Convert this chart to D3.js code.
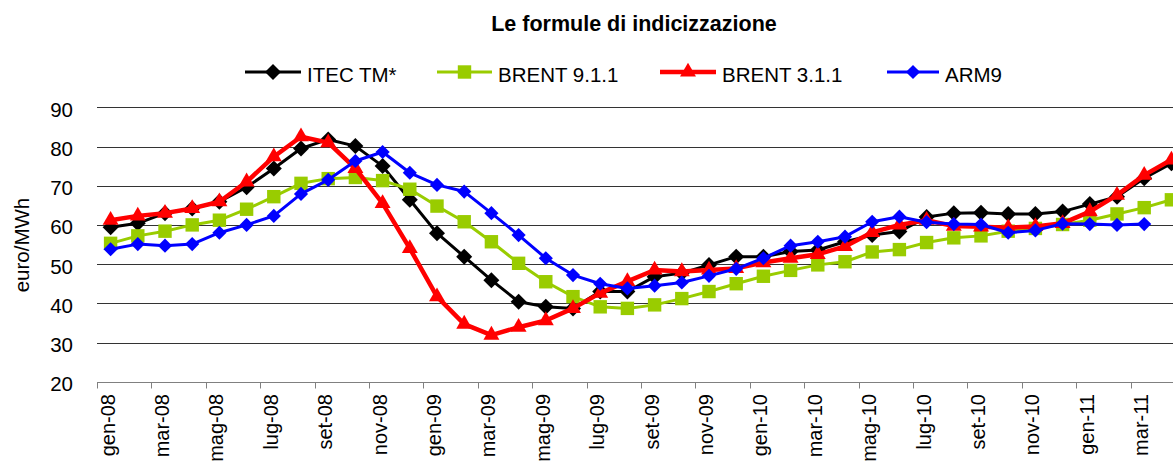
<!DOCTYPE html>
<html>
<head>
<meta charset="utf-8">
<script src="https://cdn.jsdelivr.net/npm/d3@7"></script>
<style>
    html, body { margin: 0; padding: 0; background: #fff; }
    #chart { width: 1173px; height: 468px; overflow: hidden; }
    text { font-family: "Liberation Sans", Arial, sans-serif; fill: #000; }
</style>
</head>
<body>
<div id="chart"></div>
<script>
// months from gen-08 to apr-11
const categories = [
    "gen-08", "feb-08", "mar-08", "apr-08", "mag-08", "giu-08", "lug-08", "ago-08", "set-08", "ott-08", "nov-08", "dic-08",
    "gen-09", "feb-09", "mar-09", "apr-09", "mag-09", "giu-09", "lug-09", "ago-09", "set-09", "ott-09", "nov-09", "dic-09",
    "gen-10", "feb-10", "mar-10", "apr-10", "mag-10", "giu-10", "lug-10", "ago-10", "set-10", "ott-10", "nov-10", "dic-10",
    "gen-11", "feb-11", "mar-11", "apr-11"
];

const itecTM = [59.4, 60.4, 63.0, 64.2, 65.9, 69.6, 74.4, 79.5, 81.8, 80.1, 75.0, 66.4,
    57.9, 51.9, 45.9, 40.4, 39.1, 38.7, 43.0, 43.0, 46.8, 47.7, 49.8, 51.9,
    51.9, 53.2, 53.6, 55.7, 57.4, 58.3, 62.0, 63.0, 63.1, 62.8, 62.8, 63.4,
    65.3, 67.2, 71.9, 75.7];

const brent911 = [55.3, 57.2, 58.4, 60.0, 61.2, 64.0, 67.2, 70.6, 71.8, 72.1, 71.3, 69.1,
    64.8, 60.8, 55.7, 50.2, 45.5, 41.7, 39.1, 38.7, 39.6, 41.2, 43.0, 45.0,
    46.9, 48.4, 49.8, 50.6, 53.1, 53.7, 55.5, 56.7, 57.2, 58.4, 59.1, 60.1,
    61.2, 62.8, 64.4, 66.4];

const brent311 = [61.2, 62.3, 63.0, 64.2, 65.9, 71.0, 77.4, 82.5, 81.0, 74.4, 65.5, 54.0,
    41.7, 34.7, 31.9, 33.9, 35.6, 38.7, 42.6, 45.6, 48.5, 48.1, 48.5, 48.9,
    50.4, 51.5, 52.5, 54.5, 58.1, 60.0, 61.2, 59.7, 59.5, 59.3, 59.6, 60.4,
    63.4, 67.6, 72.7, 76.6];

const arm9 = [53.8, 55.1, 54.7, 55.1, 58.0, 60.0, 62.3, 67.9, 71.5, 76.3, 78.6, 73.3,
    70.2, 68.5, 63.0, 57.4, 51.5, 47.2, 45.0, 43.8, 44.5, 45.3, 47.0, 48.8,
    51.5, 54.7, 55.7, 57.0, 60.8, 62.1, 60.7, 60.2, 60.1, 58.0, 58.6, 60.3,
    60.2, 60.0, 60.2, null];

const yTicks = [20, 30, 40, 50, 60, 70, 80, 90];

const seriesNames = ["ITEC TM*", "BRENT 9.1.1", "BRENT 3.1.1", "ARM9"];

let series = [
    { name: seriesNames[0], values: itecTM, color: "#000000", width: 3, marker: "diamond", size: 128 },
    { name: seriesNames[1], values: brent911, color: "#99cc00", width: 3, marker: "square", size: 180 },
    { name: seriesNames[2], values: brent311, color: "#ff0000", width: 4.5, marker: "triangle", size: 110 },
    { name: seriesNames[3], values: arm9, color: "#0000ff", width: 3, marker: "diamond", size: 100 }
];

let width = 1173, height = 468;
// plot area runs past the right edge, like the cropped original
let plot = { left: 97, right: 97 + 40 * 27.2, top: 107.3, bottom: 381.7 };

let svg = d3.select("#chart")
    .append("svg")
    .attr("width", width)
    .attr("height", height);

let x = d3.scaleBand()
    .domain(categories)
    .range([plot.left, plot.right]);

let y = d3.scaleLinear()
    .domain([20, 90])
    .range([plot.bottom, plot.top]);

function markerPath(type, size) {
    if (type === "square") return d3.symbol(d3.symbolSquare, size)();
    if (type === "triangle") return d3.symbol(d3.symbolTriangle, size)();
    return d3.symbol(d3.symbolSquare, size)(); // rotated later -> diamond
}

function markerTransform(type, cx, cy) {
    let t = "translate(" + cx + "," + cy + ")";
    if (type === "diamond") t += " rotate(45)";
    return t;
}

// title
svg.append("text")
    .attr("x", 634)
    .attr("y", 31)
    .attr("text-anchor", "middle")
    .style("font-size", "21.5px")
    .style("font-weight", "bold")
    .text("Le formule di indicizzazione");

// gridlines
svg.append("g")
    .selectAll("line")
    .data(yTicks.filter(function (d) { return d > 20; }))
    .enter()
    .append("line")
    .attr("x1", plot.left)
    .attr("x2", plot.right)
    .attr("y1", function (d) { return Math.round(y(d)) + 0.5; })
    .attr("y2", function (d) { return Math.round(y(d)) + 0.5; })
    .attr("stroke", "#333")
    .attr("stroke-width", 1);

// y tick labels
svg.append("g")
    .selectAll("text")
    .data(yTicks)
    .enter()
    .append("text")
    .attr("x", 73)
    .attr("y", function (d) { return y(d) + 9.5; })
    .attr("text-anchor", "end")
    .style("font-size", "20.5px")
    .text(function (d) { return d; });

// y axis title
svg.append("text")
    .attr("transform", "translate(29,245) rotate(-90)")
    .attr("text-anchor", "middle")
    .style("font-size", "20.5px")
    .text("euro/MWh");

// x axis: line + ticks every two months
let axisY = Math.round(plot.bottom) + 0.5;
svg.append("line")
    .attr("x1", plot.left)
    .attr("x2", plot.right)
    .attr("y1", axisY)
    .attr("y2", axisY)
    .attr("stroke", "#808080")
    .attr("stroke-width", 1);

let labelled = categories.filter(function (d, i) { return i % 2 === 0; });

svg.append("g")
    .selectAll("line")
    .data(labelled)
    .enter()
    .append("line")
    .attr("x1", function (d) { return Math.round(x(d)) + 0.5; })
    .attr("x2", function (d) { return Math.round(x(d)) + 0.5; })
    .attr("y1", axisY)
    .attr("y2", axisY + 6)
    .attr("stroke", "#808080");

svg.append("g")
    .selectAll("text")
    .data(labelled)
    .enter()
    .append("text")
    .attr("transform", function (d) {
        return "translate(" + (x(d) + x.bandwidth() / 2 + 4) + "," + 394 + ") rotate(-90)";
    })
    .attr("text-anchor", "end")
    .style("font-size", "20px")
    .text(function (d) { return d; });

// series lines and markers
let line = d3.line()
    .defined(function (d) { return d.v !== null; })
    .x(function (d) { return x(d.c) + x.bandwidth() / 2; })
    .y(function (d) { return y(d.v); });

series.forEach(function (s) {
    let pts = categories.map(function (c, i) { return { c: c, v: s.values[i] }; });
    let g = svg.append("g").attr("class", "series");

    g.append("path")
        .datum(pts)
        .attr("d", line)
        .attr("fill", "none")
        .attr("stroke", s.color)
        .attr("stroke-width", s.width)
        .attr("stroke-linejoin", "round");

    g.selectAll(".marker")
        .data(pts.filter(function (d) { return d.v !== null; }))
        .enter()
        .append("path")
        .attr("class", "marker")
        .attr("d", markerPath(s.marker, s.size))
        .attr("transform", function (d) {
            return markerTransform(s.marker, x(d.c) + x.bandwidth() / 2, y(d.v));
        })
        .attr("fill", s.color);
});

// legend
let legendItems = [
    { x: 245, textX: 307 },
    { x: 437, textX: 498 },
    { x: 660, textX: 722 },
    { x: 887, textX: 945 }
];
let legendY = 72;

let legend = svg.append("g")
    .selectAll("g")
    .data(series)
    .enter()
    .append("g");

legend.append("line")
    .attr("x1", function (d, i) { return legendItems[i].x; })
    .attr("x2", function (d, i) { return legendItems[i].textX - 6; })
    .attr("y1", legendY)
    .attr("y2", legendY)
    .attr("stroke", function (d) { return d.color; })
    .attr("stroke-width", function (d) { return d.width; });

legend.append("path")
    .attr("d", function (d) { return markerPath(d.marker, d.size); })
    .attr("transform", function (d, i) {
        let cx = (legendItems[i].x + legendItems[i].textX - 6) / 2;
        return markerTransform(d.marker, cx, legendY);
    })
    .attr("fill", function (d) { return d.color; });

legend.append("text")
    .attr("x", function (d, i) { return legendItems[i].textX; })
    .attr("y", 81.5)
    .style("font-size", "20.5px")
    .text(function (d) { return d.name; });
</script>
</body>
</html>
